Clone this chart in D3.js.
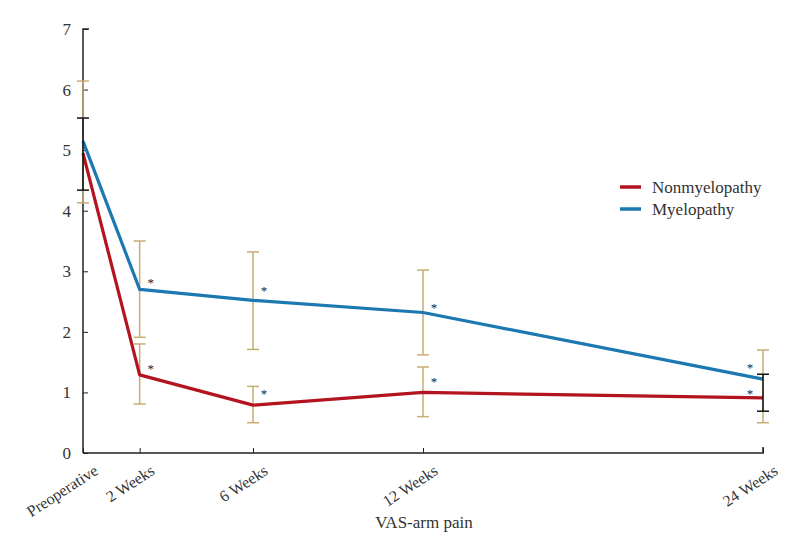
<!DOCTYPE html>
<html>
<head>
<meta charset="utf-8">
<script src="https://cdn.jsdelivr.net/npm/d3@7"></script>
<style>
  body { margin: 0; background: #fff; }
</style>
</head>
<body>
<script>
// data
var timeLabels = ["Preoperative", "2 Weeks", "6 Weeks", "12 Weeks", "24 Weeks"];
var timeWeeks = [0, 2, 6, 12, 24];
var yTicks = [0, 1, 2, 3, 4, 5, 6, 7];

var nonMyeloMean = [4.95, 1.29, 0.79, 1.0, 0.91];
var nonMyeloLow = [4.34, 0.81, 0.5, 0.6, 0.69];
var nonMyeloHigh = [5.53, 1.8, 1.1, 1.42, 1.3];
var nonMyeloStar = [null, 1.42, 1.01, 1.22, 1.01];

var myeloMean = [5.15, 2.7, 2.52, 2.32, 1.22];
var myeloLow = [4.13, 1.91, 1.71, 1.62, 0.5];
var myeloHigh = [6.14, 3.5, 3.32, 3.02, 1.7];
var myeloStar = [null, 2.84, 2.72, 2.44, 1.44];

var series = [
  { name: "Myelopathy", color: "#1b78b0", mean: myeloMean, low: myeloLow, high: myeloHigh, star: myeloStar },
  { name: "Nonmyelopathy", color: "#b3141f", mean: nonMyeloMean, low: nonMyeloLow, high: nonMyeloHigh, star: nonMyeloStar }
];

var serif = "'Liberation Serif', 'Times New Roman', serif";
var ink = "#333";

var width = 788, height = 556;
var svg = d3.select("body").append("svg")
    .attr("width", width)
    .attr("height", height)
    .attr("font-family", serif);

var x = d3.scaleLinear().domain([0, 24]).range([83, 763]);
var y = d3.scaleLinear().domain([0, 7]).range([453, 29]);

var tan = "#c6ad72";

// axes
var xAxis = d3.axisBottom(x).tickValues(timeWeeks).tickSize(-5).tickFormat("");
var yAxis = d3.axisLeft(y).tickValues(yTicks).tickSize(-5).tickPadding(12)
    .tickFormat(d3.format("d"));

var gx = svg.append("g")
    .attr("transform", "translate(0," + y(0) + ")")
    .call(xAxis);
gx.select(".domain").attr("d", "M" + x(0) + ",0H" + x(24) + "V-6")
    .attr("stroke", "#222").attr("stroke-width", 1.5).attr("fill", "none");
gx.selectAll("line").attr("stroke", "#222");

var gy = svg.append("g")
    .attr("transform", "translate(" + x(0) + ",0)")
    .call(yAxis)
    .attr("font-family", serif)
    .attr("font-size", 17);
gy.select(".domain").attr("d", "M6," + y(7) + "H0V" + y(0))
    .attr("stroke", "#222").attr("stroke-width", 1.5).attr("fill", "none");
gy.selectAll("line").attr("stroke", "#222");
gy.selectAll("text").attr("fill", ink);

// rotated category labels
svg.append("g").selectAll("text")
    .data(timeWeeks)
    .enter().append("text")
    .attr("transform", function(d) { return "translate(" + (x(d) + 10) + "," + (y(0) + 11) + ") rotate(-33)"; })
    .attr("text-anchor", "end")
    .attr("dy", "0.7em")
    .attr("font-size", 16)
    .attr("fill", ink)
    .text(function(d, i) { return timeLabels[i]; });

svg.append("text")
    .attr("x", 424)
    .attr("y", 528)
    .attr("text-anchor", "middle")
    .attr("font-size", 17)
    .attr("fill", ink)
    .text("VAS-arm pain");

function barColor(s, i) {
  // endpoint bars of the nonmyelopathy group are black
  if (s.name === "Nonmyelopathy" && (i === 0 || i === timeWeeks.length - 1)) return "#111";
  return tan;
}

function drawBars(s, black) {
  var g = svg.append("g");
  timeWeeks.forEach(function(w, i) {
    var c = barColor(s, i);
    if ((c !== tan) !== black) return;
    var cx = x(w);
    g.append("line").attr("x1", cx).attr("x2", cx).attr("y1", y(s.low[i])).attr("y2", y(s.high[i]))
      .attr("stroke", c).attr("stroke-width", 1.5);
    [s.low[i], s.high[i]].forEach(function(v) {
      g.append("line").attr("x1", cx - 6).attr("x2", cx + 6).attr("y1", y(v)).attr("y2", y(v))
        .attr("stroke", c).attr("stroke-width", 1.5);
    });
  });
}

series.forEach(function(s) { drawBars(s, false); });

var line = d3.line()
    .x(function(d, i) { return x(timeWeeks[i]); })
    .y(function(d) { return y(d); });

series.forEach(function(s) {
  svg.append("path")
    .datum(s.mean)
    .attr("d", line)
    .attr("fill", "none")
    .attr("stroke", s.color)
    .attr("stroke-width", 3.2)
    .attr("stroke-linejoin", "round");
});

series.forEach(function(s) { drawBars(s, true); });

// significance stars
series.forEach(function(s) {
  svg.append("g").selectAll("text")
    .data(s.star.map(function(v, i) { return { v: v, i: i }; }).filter(function(d) { return d.v !== null; }))
    .enter().append("text")
    .attr("x", function(d) { return x(timeWeeks[d.i]) + (d.i === timeWeeks.length - 1 ? -13 : 11); })
    .attr("y", function(d) { return y(d.v); })
    .attr("dy", "0.5em")
    .attr("text-anchor", "middle")
    .attr("font-size", 13)
    .attr("fill", "#222")
    .text("*");
});

// legend
var legendOrder = [series[1], series[0]];
var lg = svg.append("g").attr("transform", "translate(620,187)");
legendOrder.forEach(function(s, i) {
  lg.append("line").attr("x1", 0).attr("x2", 21).attr("y1", i * 22).attr("y2", i * 22)
    .attr("stroke", s.color).attr("stroke-width", 3.5);
  lg.append("text").attr("x", 32).attr("y", i * 22).attr("dy", "0.33em")
    .attr("font-size", 17)
    .attr("fill", ink)
    .text(s.name);
});
</script>
</body>
</html>
